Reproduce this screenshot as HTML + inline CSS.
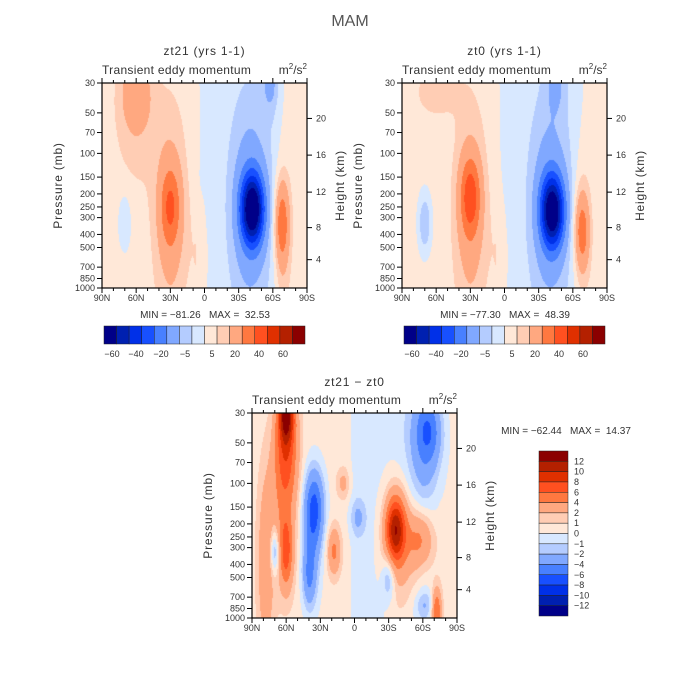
<!DOCTYPE html>
<html><head><meta charset="utf-8"><style>
body{margin:0;background:#fff;width:700px;height:700px;overflow:hidden;position:relative;font-family:"Liberation Sans",sans-serif}
canvas{position:absolute}
svg{position:absolute;left:0;top:0}
text{white-space:pre}
</style></head><body>
<canvas id="c1" width="205" height="205" style="left:102px;top:83px"></canvas>
<canvas id="c2" width="205" height="205" style="left:402px;top:83px"></canvas>
<canvas id="c3" width="205" height="205" style="left:252px;top:413px"></canvas>
<svg id="s" width="700" height="700"></svg>
<script>
const latTicks=['90N','60N','30N','0','30S','60S','90S'];
const latTickVals=[90,60,30,0,-30,-60,-90];
const pLevels=[30,50,70,100,150,200,250,300,400,500,700,850,1000];
const heightKm=[4,8,12,16,20];
const heightP=[616,356,194,103,55];
const levelsMain=[-60,-50,-40,-30,-20,-10,-5,0,5,10,20,30,40,50,60];
const levelsDiff=[-12,-10,-8,-6,-4,-2,-1,0,1,2,4,6,8,10,12];
const mainLabels=['-60','-40','-20','-5','5','20','40','60'];
const mainLabelX=[112,136,161,185,212,235,259,283];
const diffLabels=['12','10','8','6','4','2','1','0','-1','-2','-4','-6','-8','-10','-12'];
const colors=['#000088','#0020b0','#0030e8','#1850ff','#4880ff','#80a8ff','#b4ccff','#d8e8ff','#ffe8d8','#ffcdb4','#ffa880','#ff7840','#ff5020','#e03000','#b42000','#8b0000'];
// blobs: [lat(N+), pressure mb, amplitude, sigma lat deg, sigma z]
const zt21Blobs=[[60,35,12,9,0.13],[60,60,5,14,0.25],[30,250,20,6,0.13],[30,300,12,10,0.35],[-42,260,-65,7,0.12],[-40,250,-14,12,0.35],[-68,330,24,4.5,0.14],[-68,600,6,5,0.3],[-58,30,-10,5,0.1],[70,320,-7,4,0.1],[4,600,4,6,0.2],[-2,150,-3,4,0.05]];
const zt0Blobs=[[60,35,5,15,0.1],[30,210,26,6,0.13],[30,300,12,10,0.35],[-42,270,-62,7,0.12],[-40,250,-14,12,0.35],[-68,380,22,4.5,0.13],[-68,400,6,6,0.3],[70,330,-12,4,0.1],[-45,30,-8,6,0.1],[4,600,4,6,0.2]];
const diffBlobs=[[60,30,11,5,0.1],[60,60,5,7,0.15],[62,150,3,8,0.25],[60,330,5,4,0.12],[78,400,3,5,0.3],[70,320,-4,3,0.08],[35,150,-6,6,0.13],[38,300,-3,6,0.2],[40,500,-3,4,0.1],[18,320,4,4,0.08],[10,100,2,4,0.05],[-3,180,-2,5,0.06],[-36,220,10,6,0.11],[-40,300,3,12,0.25],[-58,260,4,8,0.1],[-72,900,6,3,0.08],[-65,40,-5,8,0.12],[-60,70,-2,12,0.2],[-30,500,-3,4,0.08],[-62,800,-2,6,0.05]];
const bgLat=[90,20,8,-2,-60,-75,-90];
const zt21Bg=[2,2,1,-2,-2,2,2];
const zt0Bg=[2,2,1,-2,-2,1,1];
const diffBg=[0.5,0.5,0.5,-0.5,-0.5,0.5,0.5];

const L=Math.log(1000/30);
function zOf(p){return Math.log(1000/p)/L;}
function bg(lat,arr){for(let i=0;i<bgLat.length-1;i++){if(lat<=bgLat[i]&&lat>=bgLat[i+1]){const t=(bgLat[i]-lat)/(bgLat[i]-bgLat[i+1]);return arr[i]+(arr[i+1]-arr[i])*t;}}return arr[arr.length-1];}
function drawField(id,blobs,bgArr,levels){
  const c=document.getElementById(id),ctx=c.getContext('2d'),W=205,H=205;
  const img=ctx.createImageData(W,H);
  const rgb=colors.map(h=>[parseInt(h.substr(1,2),16),parseInt(h.substr(3,2),16),parseInt(h.substr(5,2),16)]);
  for(let y=0;y<H;y++){const z=1-(y+0.5)/H;
    for(let x=0;x<W;x++){const lat=90-180*(x+0.5)/W;
      let v=bg(lat,bgArr);
      for(const b of blobs){const dl=(lat-b[0])/b[3],dz=(z-zOf(b[1]))/b[4];v+=b[2]*Math.exp(-0.5*(dl*dl+dz*dz));}
      let k=0;while(k<levels.length&&v>=levels[k])k++;
      const o=(y*W+x)*4,cc=rgb[k];img.data[o]=cc[0];img.data[o+1]=cc[1];img.data[o+2]=cc[2];img.data[o+3]=255;}}
  ctx.putImageData(img,0,0);
}
drawField('c1',zt21Blobs,zt21Bg,levelsMain);
drawField('c2',zt0Blobs,zt0Bg,levelsMain);
drawField('c3',diffBlobs,diffBg,levelsDiff);

const svg=document.getElementById('s'),NS='http://www.w3.org/2000/svg';
function el(t,a,txt){const e=document.createElementNS(NS,t);for(const k in a)e.setAttribute(k,a[k]);if(txt!==undefined)e.textContent=txt;svg.appendChild(e);return e;}
function text(x,y,s,size,anchor,name,extra){const e=el('text',Object.assign({x:x,y:y,'font-size':size,'text-anchor':anchor||'middle',fill:'#333','font-family':'Liberation Sans, sans-serif'},extra||{}),s);


return e;}
const t0=text(350,26,'MAM',16,'middle','figure-title');t0.setAttribute('fill','#555');

function panel(px,py,title,tName,titleY,subY){
  const W=205,H=205;
  text(px+W/2,titleY,title,12,'middle',tName,{'letter-spacing':'0.8'});
  text(px,subY,'Transient eddy momentum',12,'start','panel-subtitle',{'letter-spacing':'0.3'});
  const u=text(px+W,subY,'',12,'end','units-label');
  u.innerHTML='m<tspan font-size="8" dy="-5">2</tspan><tspan dy="5">/s</tspan><tspan font-size="8" dy="-5">2</tspan>';
  const r=el('rect',{x:px,y:py,width:W,height:H,fill:'none',stroke:'#000','stroke-width':1.2});
  
  
  const xs=l=>px+(90-l)/180*W, ys=p=>py+H-zOf(p)*H;
  for(let l=90;l>=-90;l-=10){const major=l%30===0,len=major?5:3;
    el('line',{x1:xs(l),x2:xs(l),y1:py+H,y2:py+H+len,stroke:'#000'});
    el('line',{x1:xs(l),x2:xs(l),y1:py,y2:py-len,stroke:'#000'});}
  latTickVals.forEach((l,i)=>text(xs(l),py+H+13,latTicks[i],9,'middle','x-tick-label'));
  pLevels.forEach(p=>{el('line',{x1:px-5,x2:px,y1:ys(p),y2:ys(p),stroke:'#000'});text(px-7,ys(p)+3,String(p),9,'end','y-tick-label');});
  heightP.forEach((p,i)=>{el('line',{x1:px+W,x2:px+W+5,y1:ys(p),y2:ys(p),stroke:'#000'});text(px+W+9,ys(p)+3,String(heightKm[i]),9,'start','height-tick-label');});
  text(0,0,'Pressure (mb)',12,'middle','y-axis-title',{transform:'translate('+(px-40)+','+(py+H/2)+') rotate(-90)','letter-spacing':'0.8'});
  text(0,0,'Height (km)',12,'middle','height-axis-title',{transform:'translate('+(px+W+37)+','+(py+H/2)+') rotate(-90)','letter-spacing':'0.8'});
}
panel(102,83,'zt21 (yrs 1-1)','zt21-title',55,74);
panel(402,83,'zt0 (yrs 1-1)','zt0-title',55,74);
panel(252,413,'zt21 \u2212 zt0','diff-title',386,404);
text(205,318,'MIN = \u221281.26   MAX =  32.53',10,'middle','zt21-min-max');
text(505,318,'MIN = \u221277.30   MAX =  48.39',10,'middle','zt0-min-max');
text(566,434,'MIN = \u221262.44   MAX =  14.37',10,'middle','diff-min-max');

function hbar(x0,name){const w=201/16;
  colors.forEach((c,i)=>{const r=el('rect',{x:x0+i*w,y:326,width:w,height:18,fill:c,stroke:'#222','stroke-width':0.5});
    
    });
  mainLabels.forEach((s,i)=>text(mainLabelX[i]+(x0-104),357,s.replace('-','\u2212'),9,'middle',name+'-label'));
}
hbar(104,'zt21-colorbar');hbar(404,'zt0-colorbar');
const bh=165/16;
colors.slice().reverse().forEach((c,i)=>{const r=el('rect',{x:539,y:451+i*bh,width:29,height:bh,fill:c,stroke:'#222','stroke-width':0.5});
  
  });
diffLabels.forEach((s,i)=>text(574,451+(i+1)*bh+3,s.replace('-','\u2212'),9,'start','diff-colorbar-label'));
</script>
</body></html>
